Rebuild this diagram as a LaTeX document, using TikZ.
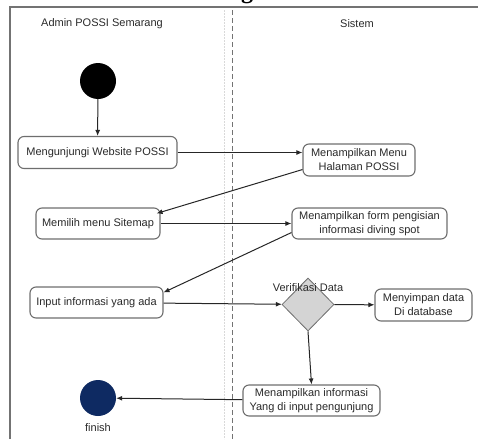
\documentclass[tikz,border=0pt]{standalone}
\usepackage{fontspec}
\setmainfont{Liberation Sans}
\newfontfamily\headfont{Liberation Serif}
\usetikzlibrary{arrows.meta,shapes.geometric}
\definecolor{boxline}{HTML}{6E6E6E}
\definecolor{txt}{HTML}{2A2A2A}
\definecolor{navy}{HTML}{0E2A62}
\definecolor{diafill}{HTML}{D4D4D4}
\tikzset{
  act/.style={draw=boxline, line width=1.1pt, rounded corners=6pt, fill=white,
    text=txt, font=\fontsize{11}{14}\selectfont, align=center, inner sep=2pt},
  flow/.style={draw=black!85, line width=1pt, -{Latex[length=6pt,width=5pt]}},
  lanetitle/.style={text=txt, font=\fontsize{11}{14}\selectfont},
  frame/.style={draw=black!55, line width=1.4pt},
}
\begin{document}
\begin{tikzpicture}[x=1pt,y=-1pt]
\useasboundingbox (0,0) rectangle (478,439);
\begin{scope}
\clip (0,0) rectangle (478,439);
\node[anchor=base, font=\headfont\bfseries\fontsize{24}{24}\selectfont, inner sep=0pt] (head) at (247,-1.5) {g};
\end{scope}
% frame
\coordinate (tl) at (10,7);
\coordinate (tr) at (478,7);
\coordinate (bl) at (10,439);
\draw[frame] (bl) -- (tl) -- (tr);
% lane divider
\coordinate (d1t) at (224,10);
\coordinate (d1b) at (224,439);
\coordinate (d2t) at (232,10);
\coordinate (d2b) at (232,439);
\draw[black!15, line width=0.8pt, dash pattern=on 2pt off 1pt] (d1t) -- (d1b);
\draw[black!55, line width=0.8pt, dash pattern=on 5pt off 3pt] (d2t) -- (d2b);
% titles
\node[lanetitle] (lane1) at (102,24) {Admin POSSI Semarang};
\node[lanetitle] (lane2) at (357,24) {Sistem};
% start / finish
\node[circle, fill=black, minimum size=36pt, inner sep=0pt] (start) at (98,81) {};
\node[circle, fill=navy, minimum size=36pt, inner sep=0pt] (finish) at (98,398) {};
\node[text=txt, font=\fontsize{11}{14}\selectfont] (finlbl) at (98,428) {finish};
% activities
\node[act, minimum width=159pt, minimum height=32pt] (a1) at (97.5,152.5) {Mengunjungi Website POSSI};
\node[act, minimum width=112pt, minimum height=32pt] (a2) at (359,160) {Menampilkan Menu\\Halaman POSSI};
\node[act, minimum width=124pt, minimum height=31pt] (a3) at (98,223.5) {Memilih menu Sitemap};
\node[act, minimum width=155pt, minimum height=31pt] (a4) at (369.5,223.5) {Menampilkan form pengisian\\informasi diving spot};
\node[act, minimum width=133pt, minimum height=31pt] (a5) at (96.5,302.5) {Input informasi yang ada};
\node[diamond, draw=boxline, line width=0.8pt, fill=diafill, minimum width=52pt, minimum height=53pt, inner sep=0pt] (dec) at (308,304.5) {};
\node[text=txt, font=\fontsize{11}{14}\selectfont] (declbl) at (308,288) {Verifikasi Data};
\node[act, minimum width=97pt, minimum height=32pt] (a6) at (423.5,305) {Menyimpan data\\Di database};
\node[act, minimum width=137pt, minimum height=31pt] (a7) at (311.5,400.5) {Menampilkan informasi\\Yang di input pengunjung};
% flows
\draw[flow] (start) -- (a1);
\draw[flow] (a1) -- (a1 -| a2.west);
\draw[flow] ([yshift=7pt]a2.south west) -- ([xshift=-4pt,yshift=-6pt]a3.north east);
\draw[flow] (a3) -- (a4);
\draw[flow] ([yshift=7pt]a4.south west) -- ([yshift=-6pt]a5.north east);
\draw[flow] (a5) -- (dec);
\draw[flow] (dec) -- (a6);
\draw[flow] (dec.south) -- (a7.north);
\draw[flow] (a7) -- (finish);
\end{tikzpicture}
\end{document}
